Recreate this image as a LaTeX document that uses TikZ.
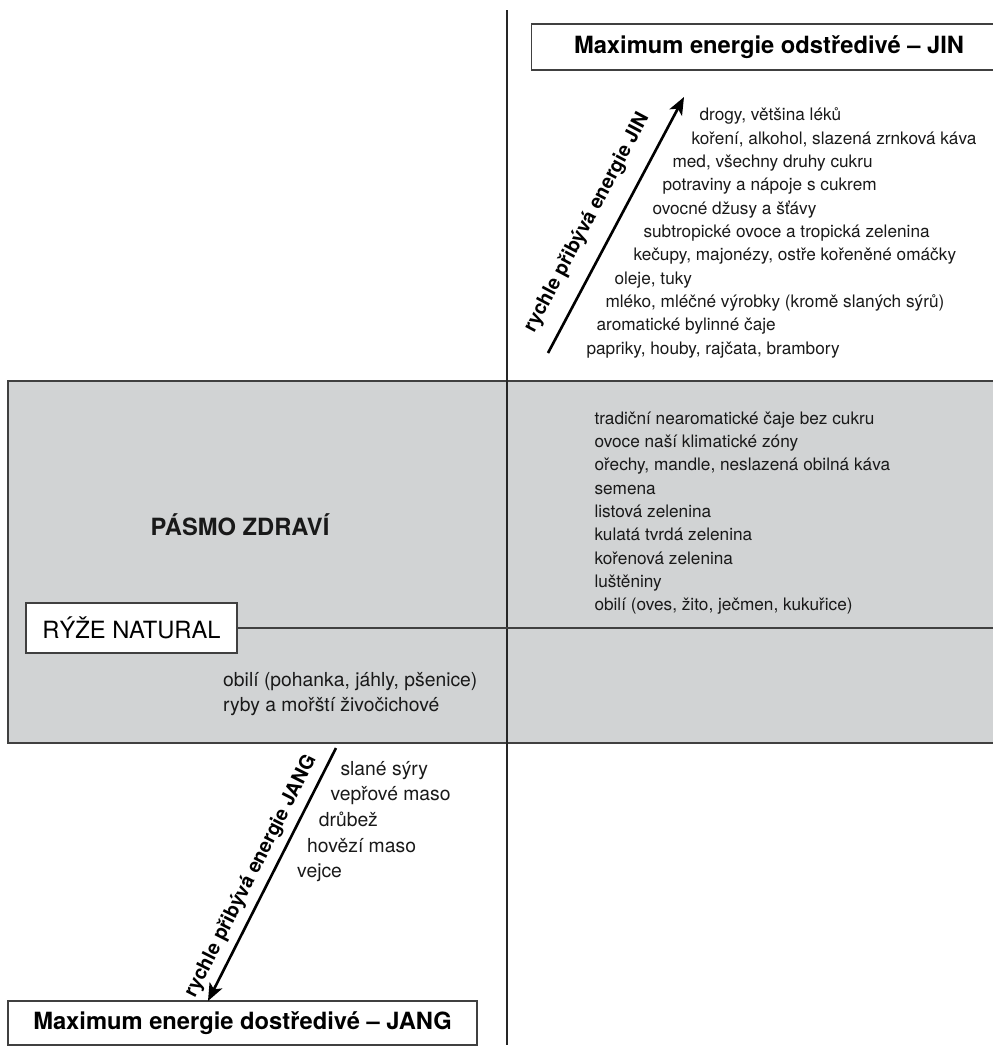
\documentclass[tikz,border=0pt]{standalone}
\usepackage{fontspec}
\setmainfont{TeX Gyre Heros}
\usetikzlibrary{arrows.meta}
\definecolor{zone}{RGB}{209,211,212}

\begin{document}
\begin{tikzpicture}[x=0.02cm,y=-0.02cm,>={Stealth[length=10pt,width=8pt,inset=2.5pt]},semithick,font=\fontsize{9.8}{12}\selectfont]
  \tikzstyle{box}=[draw=black!75,line width=0.8pt,fill=white,inner sep=0pt,font=\fontsize{13.5}{16}\selectfont\bfseries]
  \tikzstyle{item}=[anchor=base west,inner sep=0pt,text=black!90]
  \tikzstyle{big item}=[item,font=\fontsize{11}{13}\selectfont]
  \tikzstyle{rate}=[sloped,above=4pt,inner sep=0pt,font=\fontsize{11.2}{13}\selectfont\bfseries]

  \useasboundingbox (0,0) rectangle (992,1056);

  % zone of health
  \node[draw=black!75,line width=0.8pt,fill=zone,minimum width=20.2cm,minimum height=7.24cm,inner sep=0pt] (band) at (513,562) {};
  \node[font=\fontsize{13.5}{16}\selectfont\bfseries,text=black!90] (health) at (240,525) {PÁSMO ZDRAVÍ};

  \coordinate (axtop) at (507,10);
  \coordinate (axbot) at (507,1045);
  \draw[black!85,line width=0.6pt] (axtop) -- (axbot);

  \node[box,font=\fontsize{13.5}{16}\selectfont] (rice) at (131.5,628) [minimum width=4.22cm,minimum height=1cm] {RÝŽE NATURAL};
  \draw[black!75,line width=0.8pt] (rice.east) -- (rice.east -| band.east);

  \node[box] (yin) at (769,47) [minimum width=9.5cm,minimum height=0.92cm] {Maximum energie odstředivé – JIN};
  \node[box] (yang) at (242.5,1023) [minimum width=9.38cm,minimum height=0.88cm] {Maximum energie dostředivé – JANG};

  % arrows
  \coordinate (yinfrom) at (548,353);
  \coordinate (yinto) at (684,97);
  \draw[->,line width=1.5pt] (yinfrom) -- node[rate,pos=0.46,above=5pt] {rychle přibývá energie JIN} (yinto);
  \coordinate (yangfrom) at (336,748);
  \coordinate (yangto) at (208,1001);
  \draw[<-,line width=1.5pt] (yangto) -- node[rate,pos=0.46] {rychle přibývá energie JANG} (yangfrom);

  % food lists
  \foreach \x/\y/\t [count=\i] in {699/120.7/{drogy, většina léků},
      691/144/{koření, alkohol, slazená zrnková káva},
      672/167.4/{med, všechny druhy cukru},
      662/190.7/{potraviny a nápoje s cukrem},
      652/214/{ovocné džusy a šťávy},
      643/237.4/{subtropické ovoce a tropická zelenina},
      633/260.7/{kečupy, majonézy, ostře kořeněné omáčky},
      614/284/{oleje, tuky},
      605/307.4/{mléko, mléčné výrobky (kromě slaných sýrů)},
      596/330.7/{aromatické bylinné čaje},
      586/354/{papriky, houby, rajčata, brambory}}
    \node[item] (up\i) at (\x,\y) {\t};

  \foreach \t [count=\i] in {tradiční nearomatické čaje bez cukru,
      ovoce naší klimatické zóny,
      {ořechy, mandle, neslazená obilná káva},
      semena, listová zelenina, kulatá tvrdá zelenina,
      kořenová zelenina, luštěniny,
      {obilí (oves, žito, ječmen, kukuřice)}}
    \node[item] (mid\i) at (594,{401+23.3*\i}) {\t};

  \node[big item] (grain) at (222.7,686) {obilí (pohanka, jáhly, pšenice)};
  \node[big item] (fish) at (222.7,711) {ryby a mořští živočichové};

  \foreach \x/\y/\t [count=\i] in {340/775/slané sýry, 330/800.7/vepřové maso,
      318.3/826.4/drůbež, 306.7/852/hovězí maso, 296.7/877.7/vejce}
    \node[big item] (down\i) at (\x,\y) {\t};

\end{tikzpicture}
\end{document}
